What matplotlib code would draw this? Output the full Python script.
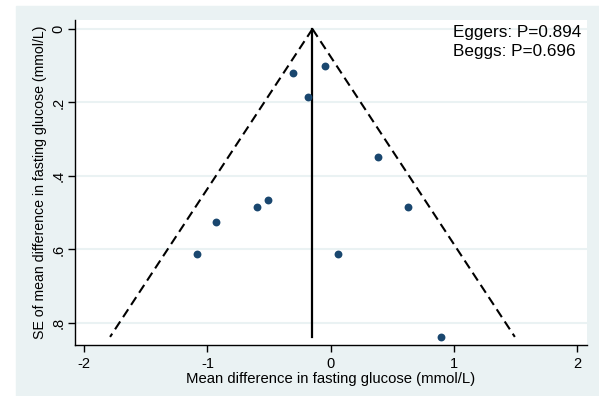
import matplotlib
matplotlib.use("Agg")
import matplotlib.pyplot as plt
from matplotlib.patches import Rectangle
import numpy as np

plt.rcParams['font.family'] = ['Liberation Sans', 'DejaVu Sans']

# study estimates (mean difference, SE)
md = [-0.043, -0.187, -0.306, 0.384, -0.511, -0.594, -0.927, -1.087, 0.627, 0.057, 0.898]
se = [0.100, 0.184, 0.121, 0.347, 0.465, 0.485, 0.525, 0.613, 0.485, 0.611, 0.837]
pooled = -0.148
se_max = 0.838
xticks = [-2, -1, 0, 1, 2]
yticks = [0, 0.2, 0.4, 0.6, 0.8]
ytick_labels = ["0", ".2", ".4", ".6", ".8"]
notes = ["Eggers: P=0.894", "Beggs: P=0.696"]

bg = '#eaf2f3'
navy = '#1a476f'

fig = plt.figure(figsize=(5.99, 3.96), dpi=100)
fig.patches.append(Rectangle((16/599, 0), 1 - 16/599, 1 - 6/396,
                             transform=fig.transFigure, color=bg, zorder=-1))
ax = fig.add_axes([75/599, 51/396, 512/599, 325/396])
ax.set_facecolor('white')

ax.set_xlim(-2.075, 2.08)
ax.set_ylim(0.86, -0.0245)

for t in yticks:
    ax.axhline(t, color=bg, lw=1.5, zorder=0)

# funnel
se_line = np.array([0, se_max])
ax.plot(pooled - 1.96 * se_line, se_line, color='black', ls=(0, (4.5, 2.5)), lw=1.5)
ax.plot(pooled + 1.96 * se_line, se_line, color='black', ls=(0, (4.5, 2.5)), lw=1.5)
ax.plot([pooled, pooled], [0, se_max], color='black', lw=1.6)

ax.scatter(md, se, s=32, color=navy, zorder=3, linewidths=0)

for s in ['top', 'right']:
    ax.spines[s].set_visible(False)
ax.spines['left'].set_linewidth(1.0)
ax.spines['bottom'].set_linewidth(1.0)

ax.set_xticks(xticks)
ax.set_xticklabels([str(v) for v in xticks])
ax.set_yticks(yticks)
ax.set_yticklabels(ytick_labels, rotation=90, va='center')
ax.tick_params(direction='out', length=5, width=1, labelsize=10.5, colors='black')
ax.tick_params(axis='y', pad=2)

ax.set_xlabel("Mean difference in fasting glucose (mmol/L)", fontsize=10.7, labelpad=1)
ax.set_ylabel("SE of mean difference in fasting glucose (mmol/L)", fontsize=10.2, labelpad=3)

ax.text(453/599, 1 - 25/396, notes[0] + "\n" + notes[1], transform=fig.transFigure,
        ha='left', va='top', fontsize=12.3, linespacing=1.3)

fig.savefig("out.png", dpi=100)
